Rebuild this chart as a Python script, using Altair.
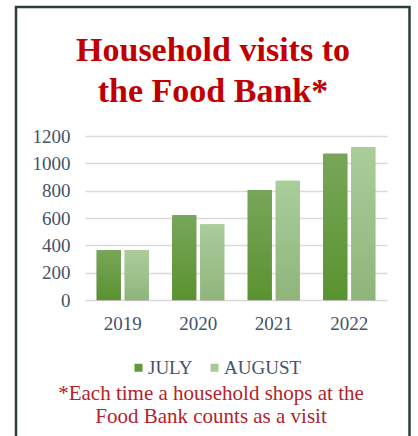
import altair as alt
import pandas as pd

years = ["2019", "2020", "2021", "2022"]
series = ["JULY", "AUGUST"]
july = [365, 620, 805, 1070]
august = [365, 555, 872, 1120]
y_ticks = [0, 200, 400, 600, 800, 1000, 1200]
title_lines = ["Household visits to", "the Food Bank*"]
note_lines = ["*Each time a household shops at the", "Food Bank counts as a visit"]

rows = []
for i, yr in enumerate(years):
    rows.append({"year": yr, "series": series[0], "visits": july[i]})
    rows.append({"year": yr, "series": series[1], "visits": august[i]})
df = pd.DataFrame(rows)
one = pd.DataFrame({"a": [0]})

FONT = "Liberation Serif"
AXIS_COLOR = "#44546a"
RED = "#c00000"
NOTE_RED = "#b3232b"

x = alt.X("year:N", sort=years, title=None,
          scale=alt.Scale(paddingInner=0.311, paddingOuter=0.155),
          axis=alt.Axis(labelAngle=0, ticks=False, domain=False, labelFont=FONT,
                        labelFontSize=19, labelColor=AXIS_COLOR, labelPadding=14, grid=False))
xo = alt.XOffset("series:N", sort=series,
                 scale=alt.Scale(domain=series, paddingInner=0.143, paddingOuter=0))
y = alt.Y("visits:Q", title=None, scale=alt.Scale(domain=[0, 1200], nice=False),
          axis=alt.Axis(values=y_ticks, ticks=False, domain=False, labelFont=FONT,
                        labelFontSize=19, labelColor=AXIS_COLOR, labelPadding=15,
                        gridColor="#d9d9d9", gridWidth=1.5, format="d"))

base = alt.Chart(df).mark_bar().encode(
    x=x, xOffset=xo, y=y,
    color=alt.Color("series:N", sort=series,
                    scale=alt.Scale(domain=series, range=["#5e9a3a", "#a6cb95"]),
                    legend=alt.Legend(title=None, orient="none", legendX=44, legendY=222,
                                      direction="horizontal", symbolType="square",
                                      symbolSize=64, symbolStrokeWidth=0,
                                      labelFont=FONT, labelFontSize=19,
                                      labelColor=AXIS_COLOR, labelOffset=0,
                                      columnPadding=12)),
)

shadow = alt.Chart(df).mark_bar(color="#000000", opacity=0.12, xOffset=2, yOffset=1).encode(
    x=x, xOffset=xo, y=y)


def grad(top, bottom):
    return {"gradient": "linear", "x1": 0, "x2": 0, "y1": 0, "y2": 1,
            "stops": [{"offset": 0, "color": top}, {"offset": 1, "color": bottom}]}


july_bars = alt.Chart(df).mark_bar(color=grad("#78a65a", "#5a9230")).encode(
    x=x, xOffset=xo, y=y).transform_filter(alt.datum.series == series[0])
aug_bars = alt.Chart(df).mark_bar(color=grad("#aacd9b", "#8fb57a")).encode(
    x=x, xOffset=xo, y=y).transform_filter(alt.datum.series == series[1])

border = alt.Chart(one).mark_rect(fillOpacity=0, stroke="#2b3d3d", strokeWidth=2.5).encode(
    x=alt.value(-69), x2=alt.value(324.5), y=alt.value(-129), y2=alt.value(314))

title = alt.Chart(one).mark_text(text=title_lines, font=FONT, fontSize=34, fontWeight="bold",
                                 color=RED, align="center", baseline="alphabetic",
                                 lineHeight=41).encode(
    x=alt.value(128), y=alt.value(-75))

note = alt.Chart(one).mark_text(text=note_lines, font=FONT, fontSize=21, color=NOTE_RED,
                                align="center", baseline="alphabetic", lineHeight=23).encode(
    x=alt.value(126), y=alt.value(264))

chart = alt.layer(border, base, shadow, july_bars, aug_bars, title, note).properties(
    width=302, height=164,
    autosize=alt.AutoSizeParams(type="none"),
    padding={"left": 85, "top": 136, "right": 31, "bottom": 136},
    background="white",
).configure_view(stroke=None)

chart.save("out.html", embed_options={"renderer": "svg", "actions": False})
